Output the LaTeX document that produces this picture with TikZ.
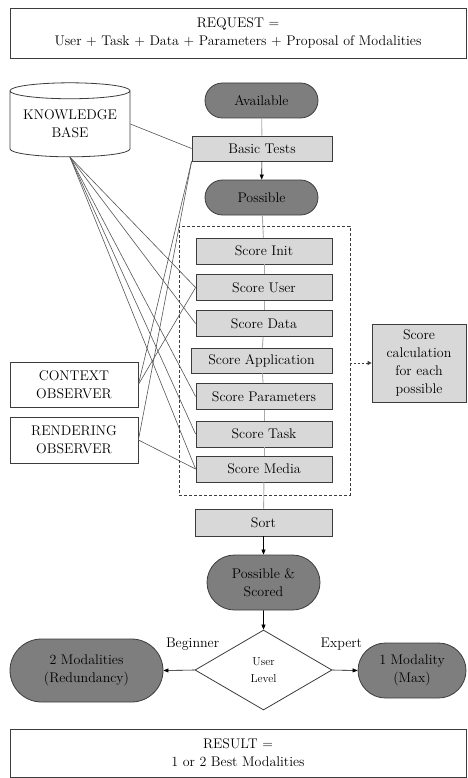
\documentclass[tikz,border=0pt]{standalone}
\usepackage{amsmath,amssymb}
\usepackage{tikz}
\usetikzlibrary{shapes.geometric,shapes.misc,arrows.meta}

\definecolor{framecol}{RGB}{60,60,60}
\definecolor{darkfill}{RGB}{126,126,126}
\definecolor{lightfill}{RGB}{216,216,216}
\definecolor{linkcol}{RGB}{85,85,85}
\definecolor{flowcol}{RGB}{170,170,170}

\begin{document}
\begin{tikzpicture}[x=1pt, y=-1pt,
    main/.style = {draw=framecol, line width=0.8pt, align=center, inner sep=0pt,
                   font=\fontsize{14}{18}\selectfont},
    oval/.style = {main, rounded rectangle, fill=darkfill, minimum width=113pt, minimum height=35pt},
    score/.style = {main, fill=lightfill, minimum width=136pt, minimum height=26pt},
    plain/.style = {main, fill=white},
    lbl/.style = {font=\fontsize{14}{18}\selectfont, inner sep=0pt},
    link/.style = {linkcol, line width=0.6pt},
    flow/.style = {flowcol, line width=0.9pt},
    arr/.style = {black, line width=0.6pt, -{Triangle[length=5pt,width=4pt]}},
    dotarr/.style = {framecol, line width=0.8pt, dash pattern=on 2pt off 2pt,
                     -{Triangle[length=4pt,width=4pt]}}]
            \useasboundingbox (0,0) rectangle (467,778);

            \node[plain, minimum width=456pt, minimum height=50pt] (request) at (238,33)
                {REQUEST =\\User + Task + Data + Parameters + Proposal of Modalities};

            \node[plain, cylinder, shape border rotate=90, aspect=0.17,
                  minimum width=120pt, minimum height=74pt] (kb) at (70,124) {KNOWLEDGE\\BASE};
            \node[plain, minimum width=128pt, minimum height=45pt] (context) at (74,384.5) {CONTEXT\\OBSERVER};
            \node[plain, minimum width=128pt, minimum height=46pt] (rendering) at (74,440) {RENDERING\\OBSERVER};

            % main flow
            \node[oval] (available) at (261.5,100.5) {Available};
            \node[score, minimum width=140pt, minimum height=25pt] (basic) at (262,148.5) {Basic Tests};
            \node[oval] (possible) at (261.5,197.5) {Possible};

            \node[main, dash pattern=on 3pt off 2pt, minimum width=171pt, minimum height=269pt] (scorebox) at (264.5,360.5) {};
            \node[score] (init) at (264,251) {Score Init};
            \node[score] (user) at (264,287.5) {Score User};
            \node[score] (data) at (264,323.5) {Score Data};
            \node[score, minimum width=141pt, minimum height=25pt] (app) at (261.5,360.5) {Score Application};
            \node[score] (params) at (264,396.5) {Score Parameters};
            \node[score] (task) at (264,434) {Score Task};
            \node[score] (media) at (264,469) {Score Media};

            \node[score, minimum width=94pt, minimum height=78pt] (calc) at (419,363)
                {Score\\calculation\\for each\\possible};

            \node[score, minimum width=137pt, minimum height=27pt] (sort) at (263.5,522.5) {Sort};
            \node[oval, minimum height=55pt] (scored) at (263.5,582.5) {Possible \&\\Scored};
            \node[plain, diamond, minimum width=137pt, minimum height=80pt,
                  font=\fontsize{11.5}{17}\selectfont] (level) at (263.5,670) {User\\Level};
            \node[oval, minimum width=153pt, minimum height=63pt] (two) at (86.5,670.5) {2 Modalities\\(Redundancy)};
            \node[oval, minimum width=108pt, minimum height=55pt] (one) at (412,670.5) {1 Modality\\(Max)};

            \node[plain, minimum width=456pt, minimum height=48pt] (result) at (238,753)
                {RESULT =\\1 or 2 Best Modalities};

            % knowledge links
            \path[link] (kb.east) edge (basic.west);
            \path[link] (kb.south) edge (user.west)
                                   edge (data.west)
                                   edge (params.west)
                                   edge (task.west)
                                   edge (media.west);
            \path[link] (context.east) edge (basic.south west)
                                       edge (user.west);
            \path[link] (rendering.east) edge (basic.south west)
                                         edge (media.west);

            % flow lines
            \path[flow] (available) edge (basic);
            \path[arr] (basic) edge (possible);
            \path[flow] (possible) edge (init)
                        (init) edge (user)
                        (user) edge (data)
                        (data) edge (app)
                        (app) edge (params)
                        (params) edge (task)
                        (task) edge (media)
                        (media) edge (sort);
            \path[arr] (sort) edge (scored);
            \path[arr] (scored) edge (level);
            \path[arr] (level.west) edge node[lbl, pos=0, above=19pt, xshift=-2pt] {Beginner} (two.east);
            \path[arr] (level.east) edge node[lbl, pos=0, above=19pt, xshift=9pt] {Expert} (one.west);
            \draw[dotarr] (scorebox.east |- calc.west) -- (calc.west);
        \end{tikzpicture}
\end{document}
